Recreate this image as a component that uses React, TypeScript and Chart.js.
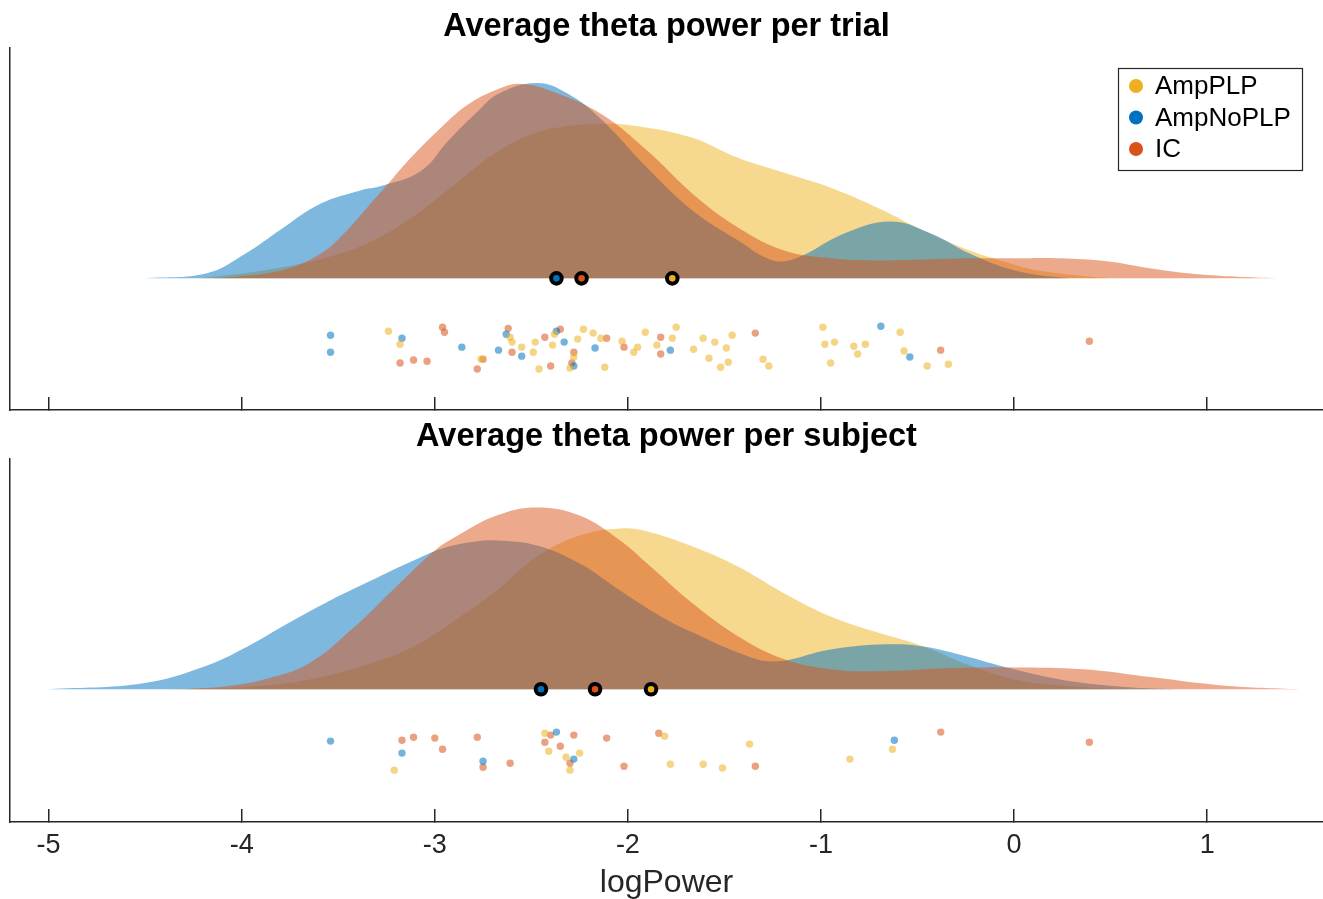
import React, { useEffect, useRef } from "react";
import { Chart, registerables } from "chart.js";

Chart.register(...registerables);

// ---------------- data ----------------
const groups = ["AmpPLP", "AmpNoPLP", "IC"];
const xTickValues = [-5, -4, -3, -2, -1, 0, 1];
const xLimits = [-5.2, 1.6];

// Average theta power per trial: density curves (logPower, density)
const trialAmpPLPX = [-4.35, -4.18, -3.79, -3.49, -3.29, -3.09, -2.89, -2.69, -2.49, -2.3, -2.1, -1.93, -1.665, -1.43, -1.19, -0.95, -0.71, -0.47, -0.23, -0.07, 0.12, 0.44, 0.6];
const trialAmpPLPY = [0, 0.003, 0.037, 0.083, 0.137, 0.217, 0.317, 0.417, 0.483, 0.51, 0.517, 0.507, 0.47, 0.403, 0.353, 0.303, 0.237, 0.16, 0.093, 0.06, 0.027, 0.003, 0];
const trialAmpNoPLPX = [-4.5, -4.18, -3.98, -3.79, -3.59, -3.39, -3.27, -3.07, -2.93, -2.79, -2.67, -2.47, -2.31, -2.14, -1.9, -1.665, -1.43, -1.25, -1.12, -0.88, -0.64, -0.43, -0.23, 0.0, 0.24, 0.4];
const trialAmpNoPLPY = [0, 0.017, 0.083, 0.167, 0.25, 0.293, 0.31, 0.36, 0.46, 0.55, 0.617, 0.653, 0.617, 0.533, 0.37, 0.227, 0.127, 0.06, 0.07, 0.15, 0.19, 0.15, 0.083, 0.027, 0.003, 0];
const trialICX = [-4.18, -4.08, -3.79, -3.59, -3.47, -3.35, -3.25, -3.15, -2.99, -2.83, -2.67, -2.55, -2.4, -2.14, -1.9, -1.665, -1.43, -1.19, -0.95, -0.71, -0.47, -0.23, 0, 0.24, 0.48, 0.71, 0.97, 1.36];
const trialICY = [0, 0.003, 0.027, 0.083, 0.15, 0.237, 0.31, 0.385, 0.49, 0.58, 0.633, 0.65, 0.627, 0.55, 0.427, 0.283, 0.17, 0.093, 0.067, 0.06, 0.063, 0.067, 0.067, 0.067, 0.057, 0.033, 0.013, 0];

// Average theta power per trial: individual trials (logPower, jitter)
const trialDropsAmpPLPX = [-3.24, -3.18, -2.76, -2.61, -2.6, -2.55, -2.49, -2.48, -2.46, -2.39, -2.38, -2.3, -2.28, -2.26, -2.23, -2.18, -2.14, -2.12, -2.03, -1.97, -1.95, -1.91, -1.85, -1.77, -1.75, -1.66, -1.61, -1.58, -1.55, -1.52, -1.49, -1.48, -1.46, -1.3, -1.27, -0.99, -0.98, -0.95, -0.93, -0.83, -0.81, -0.77, -0.59, -0.57, -0.45, -0.34];
const trialDropsAmpPLPY = [-0.177, -0.22, -0.27, -0.197, -0.213, -0.23, -0.247, -0.213, -0.303, -0.223, -0.187, -0.3, -0.263, -0.203, -0.17, -0.183, -0.2, -0.297, -0.21, -0.247, -0.23, -0.18, -0.223, -0.2, -0.163, -0.237, -0.2, -0.267, -0.213, -0.297, -0.233, -0.28, -0.19, -0.27, -0.293, -0.163, -0.22, -0.283, -0.213, -0.227, -0.253, -0.22, -0.18, -0.243, -0.293, -0.287];
const trialDropsAmpNoPLPX = [-3.54, -3.54, -3.17, -2.86, -2.67, -2.63, -2.55, -2.37, -2.33, -2.28, -2.17, -1.78, -0.69, -0.54];
const trialDropsAmpNoPLPY = [-0.19, -0.247, -0.2, -0.23, -0.24, -0.187, -0.26, -0.177, -0.213, -0.293, -0.233, -0.24, -0.16, -0.263];
const trialDropsICX = [-3.18, -3.11, -3.04, -2.96, -2.95, -2.78, -2.75, -2.62, -2.6, -2.43, -2.4, -2.35, -2.29, -2.28, -2.11, -2.02, -1.83, -1.83, -1.34, -0.38, 0.39];
const trialDropsICY = [-0.283, -0.273, -0.277, -0.163, -0.18, -0.303, -0.27, -0.167, -0.247, -0.197, -0.293, -0.17, -0.283, -0.247, -0.2, -0.23, -0.197, -0.253, -0.183, -0.24, -0.21];
const trialMeans = [-1.77, -2.37, -2.24];

// Average theta power per subject: density curves
const subjectAmpPLPX = [-4.4, -4.0, -3.65, -3.33, -3.11, -2.89, -2.68, -2.47, -2.25, -2.04, -1.9, -1.665, -1.43, -1.19, -0.95, -0.71, -0.47, -0.23, 0.0, 0.24, 0.48, 0.7];
const subjectAmpPLPY = [0, 0.007, 0.033, 0.087, 0.143, 0.233, 0.33, 0.443, 0.513, 0.537, 0.527, 0.477, 0.41, 0.32, 0.243, 0.19, 0.143, 0.08, 0.033, 0.013, 0.003, 0];
const subjectAmpNoPLPX = [-5.0, -4.51, -4.19, -3.97, -3.76, -3.54, -3.33, -3.11, -2.96, -2.79, -2.68, -2.47, -2.25, -2.04, -1.82, -1.665, -1.43, -1.24, -0.95, -0.66, -0.47, -0.23, -0.04, 0.24, 0.48, 0.72, 0.9];
const subjectAmpNoPLPY = [0, 0.02, 0.077, 0.143, 0.22, 0.297, 0.363, 0.43, 0.47, 0.493, 0.497, 0.48, 0.42, 0.33, 0.24, 0.19, 0.123, 0.093, 0.133, 0.15, 0.143, 0.107, 0.073, 0.033, 0.013, 0.003, 0];
const subjectICX = [-4.3, -4.08, -3.86, -3.65, -3.43, -3.22, -3.0, -2.89, -2.68, -2.47, -2.25, -2.04, -1.9, -1.665, -1.43, -1.19, -0.95, -0.71, -0.35, 0, 0.36, 0.72, 1.08, 1.48];
const subjectICY = [0, 0.01, 0.037, 0.087, 0.2, 0.33, 0.463, 0.51, 0.58, 0.607, 0.58, 0.497, 0.42, 0.287, 0.177, 0.1, 0.067, 0.06, 0.07, 0.073, 0.067, 0.04, 0.013, 0];

// Average theta power per subject: individual subjects
const subjectDropsAmpPLPX = [-3.21, -2.43, -2.41, -2.32, -2.25, -2.3, -1.81, -1.78, -1.61, -1.51, -1.37, -0.85, -0.63];
const subjectDropsAmpPLPY = [-0.27, -0.147, -0.207, -0.227, -0.213, -0.27, -0.157, -0.25, -0.25, -0.263, -0.183, -0.233, -0.2];
const subjectDropsAmpNoPLPX = [-3.54, -3.17, -2.75, -2.37, -2.28, -0.62];
const subjectDropsAmpNoPLPY = [-0.173, -0.213, -0.24, -0.143, -0.233, -0.17];
const subjectDropsICX = [-3.17, -3.11, -3.0, -2.96, -2.78, -2.75, -2.61, -2.43, -2.4, -2.35, -2.28, -2.3, -2.11, -2.02, -1.84, -1.34, -0.38, 0.39];
const subjectDropsICY = [-0.17, -0.16, -0.163, -0.2, -0.16, -0.26, -0.247, -0.177, -0.153, -0.19, -0.153, -0.247, -0.163, -0.257, -0.147, -0.257, -0.143, -0.177];
const subjectMeans = [-1.88, -2.45, -2.17];

// ---------------- styles ----------------
const groupColors = ["#EDB120", "#0072BD", "#D95319"];
const FONT = '"Liberation Sans", Arial, Helvetica, sans-serif';
const AXIS_COLOR = "#262626";

function rgba(hex: string, a: number) {
  const n = parseInt(hex.slice(1), 16);
  return `rgba(${n >> 16},${(n >> 8) & 255},${n & 255},${a})`;
}
function pairs(xs: number[], ys: number[]) {
  return xs.map((x, i) => ({ x, y: ys[i] }));
}

const legendBoxPlugin = {
  id: "legendBox",
  afterDatasetsDraw(chart: any, _args: any, opts: any) {
    if (!opts || !opts.display) return;
    const { ctx, chartArea } = chart;
    const w = 184;
    const h = 102;
    const left = chartArea.right - 21 - w;
    const top = chartArea.top + 20;
    ctx.save();
    ctx.fillStyle = "#ffffff";
    ctx.fillRect(left, top, w, h);
    ctx.strokeStyle = AXIS_COLOR;
    ctx.lineWidth = 1.2;
    ctx.strokeRect(left + 0.5, top + 0.5, w, h);
    ctx.font = `26px ${FONT}`;
    ctx.textBaseline = "middle";
    ctx.textAlign = "left";
    opts.items.forEach((it: any, i: number) => {
      const cy = top + 18 + i * 31.5;
      ctx.beginPath();
      ctx.arc(left + 18, cy, 7, 0, Math.PI * 2);
      ctx.fillStyle = it.color;
      ctx.fill();
      ctx.fillStyle = "#000000";
      ctx.fillText(it.label, left + 37, cy + 1);
    });
    ctx.restore();
  },
};

type PanelSpec = {
  title: string;
  dens: { x: number[]; y: number[] }[];
  drops: { x: number[]; y: number[] }[];
  means: number[];
  showXLabels: boolean;
  showLegend: boolean;
  xAxisHeight: number;
  padBottom: number;
  titlePadTop: number;
  titlePadBottom: number;
  yMin: number;
  yMax: number;
};

function makeConfig(p: PanelSpec): any {
  const datasets: any[] = [];
  groups.forEach((g, i) => {
    datasets.push({
      label: g,
      data: pairs(p.dens[i].x, p.dens[i].y),
      showLine: true,
      fill: "origin",
      backgroundColor: rgba(groupColors[i], 0.5),
      borderColor: "rgba(0,0,0,0)",
      borderWidth: 0,
      pointRadius: 0,
      tension: 0.4,
      order: 3 + (2 - i),
    });
  });
  groups.forEach((g, i) => {
    datasets.push({
      label: g + " data",
      data: pairs(p.drops[i].x, p.drops[i].y),
      showLine: false,
      pointRadius: 3.7,
      pointBorderWidth: 0,
      pointBackgroundColor: rgba(groupColors[i], 0.55),
      order: 2,
    });
  });
  groups.forEach((g, i) => {
    datasets.push({
      label: g + " mean",
      data: [{ x: p.means[i], y: 0 }],
      showLine: false,
      pointRadius: 5.3,
      pointBorderWidth: 4,
      pointBorderColor: "#000000",
      pointBackgroundColor: groupColors[i],
      order: 1,
    });
  });

  return {
    type: "scatter",
    data: { datasets },
    plugins: [legendBoxPlugin],
    options: {
      animation: false,
      responsive: false,
      maintainAspectRatio: false,
      devicePixelRatio: 1,
      events: [],
      layout: {
        autoPadding: false,
        padding: { left: 10, right: 0, top: 0, bottom: p.padBottom },
      },
      plugins: {
        legend: { display: false },
        tooltip: { enabled: false },
        title: {
          display: true,
          text: p.title,
          fullSize: false,
          color: "#000000",
          font: { family: FONT, size: 32.5, weight: "bold", lineHeight: 1.2 },
          padding: { top: p.titlePadTop, bottom: p.titlePadBottom },
        },
        legendBox: {
          display: p.showLegend,
          items: groups.map((g, i) => ({ label: g, color: groupColors[i] })),
        },
      },
      scales: {
        x: {
          type: "linear",
          min: xLimits[0],
          max: xLimits[1],
          afterBuildTicks: (s: any) => {
            s.ticks = xTickValues.map((v) => ({ value: v }));
          },
          afterFit: (s: any) => {
            s.height = p.xAxisHeight;
            s.paddingLeft = 0;
            s.paddingRight = 0;
          },
          border: { display: true, color: AXIS_COLOR, width: 1.5 },
          grid: {
            display: true,
            drawOnChartArea: false,
            drawTicks: true,
            tickLength: -13,
            color: AXIS_COLOR,
            lineWidth: 1.5,
          },
          ticks: {
            display: p.showXLabels,
            color: AXIS_COLOR,
            font: { family: FONT, size: 27 },
            padding: 20,
            maxRotation: 0,
            autoSkip: false,
            callback: (v: any) => String(v),
          },
          title: {
            display: p.showXLabels,
            text: "logPower",
            color: AXIS_COLOR,
            font: { family: FONT, size: 32, lineHeight: 1 },
            padding: { top: 0, bottom: 0 },
          },
        },
        y: {
          type: "linear",
          min: p.yMin,
          max: p.yMax,
          afterFit: (s: any) => {
            s.width = 0;
            s.paddingTop = 0;
            s.paddingBottom = 0;
          },
          border: { display: true, color: AXIS_COLOR, width: 1.5 },
          grid: { display: false },
          ticks: { display: false },
        },
      },
    },
  };
}

export default function App() {
  const topRef = useRef<HTMLCanvasElement | null>(null);
  const bottomRef = useRef<HTMLCanvasElement | null>(null);

  useEffect(() => {
    const top = new Chart(
      topRef.current as HTMLCanvasElement,
      makeConfig({
        title: "Average theta power per trial",
        dens: [
          { x: trialAmpPLPX, y: trialAmpPLPY },
          { x: trialAmpNoPLPX, y: trialAmpNoPLPY },
          { x: trialICX, y: trialICY },
        ],
        drops: [
          { x: trialDropsAmpPLPX, y: trialDropsAmpPLPY },
          { x: trialDropsAmpNoPLPX, y: trialDropsAmpNoPLPY },
          { x: trialDropsICX, y: trialDropsICY },
        ],
        means: trialMeans,
        showXLabels: false,
        showLegend: true,
        xAxisHeight: 0,
        padBottom: 5,
        titlePadTop: 8,
        titlePadBottom: 1,
        yMin: -0.44,
        yMax: 0.77,
      })
    );
    const bottom = new Chart(
      bottomRef.current as HTMLCanvasElement,
      makeConfig({
        title: "Average theta power per subject",
        dens: [
          { x: subjectAmpPLPX, y: subjectAmpPLPY },
          { x: subjectAmpNoPLPX, y: subjectAmpNoPLPY },
          { x: subjectICX, y: subjectICY },
        ],
        drops: [
          { x: subjectDropsAmpPLPX, y: subjectDropsAmpPLPY },
          { x: subjectDropsAmpNoPLPX, y: subjectDropsAmpNoPLPY },
          { x: subjectDropsICX, y: subjectDropsICY },
        ],
        means: subjectMeans,
        showXLabels: true,
        showLegend: false,
        xAxisHeight: 77,
        padBottom: 0,
        titlePadTop: 3,
        titlePadBottom: 1.6,
        yMin: -0.443,
        yMax: 0.77,
      })
    );
    return () => {
      top.destroy();
      bottom.destroy();
    };
  }, []);

  return (
    <div
      style={{
        position: "absolute",
        left: 0,
        top: 0,
        width: 1323,
        height: 899,
        background: "#ffffff",
        overflow: "hidden",
      }}
    >
      <canvas
        ref={topRef}
        width={1323}
        height={415}
        style={{ position: "absolute", left: 0, top: 0, width: 1323, height: 415, display: "block" }}
      />
      <canvas
        ref={bottomRef}
        width={1323}
        height={484}
        style={{ position: "absolute", left: 0, top: 415, width: 1323, height: 484, display: "block" }}
      />
    </div>
  );
}
